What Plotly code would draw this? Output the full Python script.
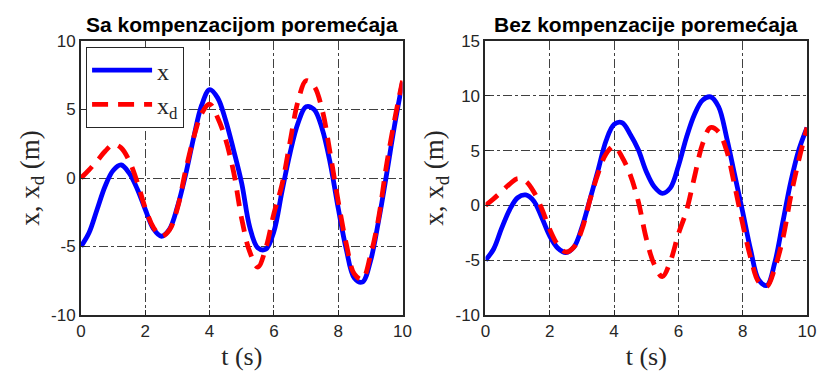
import plotly.graph_objects as go
from plotly.subplots import make_subplots

# time axis (s)
t = [0.0, 0.25, 0.5, 0.75, 1.0, 1.25, 1.5, 1.75, 2.0, 2.25, 2.5, 2.75, 3.0, 3.25,
     3.5, 3.75, 4.0, 4.25, 4.5, 4.75, 5.0, 5.25, 5.5, 5.75, 6.0, 6.25, 6.5, 6.75,
     7.0, 7.25, 7.5, 7.75, 8.0, 8.25, 8.5, 8.75, 9.0, 9.25, 9.5, 9.75, 10.0]

# desired trajectory x_d (same in both panels)
xd = [0.0, 0.6, 1.25, 1.95, 2.45, 2.2, 1.25, -0.3, -2.2, -3.6, -4.25, -3.8, -2.2, 0.5,
      2.9, 4.7, 5.4, 4.4, 2.8, 0.4, -3.0, -5.4, -6.5, -5.1, -2.6, -0.5, 2.6, 5.6,
      7.1, 6.7, 5.0, 1.8, -1.7, -4.8, -7.0, -7.4, -5.7, -3.0, 0.9, 4.2, 7.1]

# x with disturbance compensation
x_comp = [-5.0, -4.0, -2.3, -0.6, 0.55, 0.95, 0.35, -0.8, -2.3, -3.7, -4.25, -3.75, -2.1, 0.2,
          2.9, 5.3, 6.45, 5.85, 4.2, 2.0, -0.4, -3.6, -5.1, -5.2, -3.9, -1.0, 1.8, 4.0,
          5.2, 5.0, 3.6, 1.1, -2.2, -5.2, -7.3, -7.6, -6.1, -3.2, 0.2, 3.8, 7.0]

# x without disturbance compensation
x_nocomp = [-5.0, -4.0, -2.1, -0.4, 0.7, 0.95, 0.4, -1.1, -2.8, -3.9, -4.3, -3.8, -2.0, 0.55,
            3.2, 5.9, 7.4, 7.55, 6.5, 5.1, 3.1, 1.7, 1.1, 1.6, 3.6, 6.2, 8.3, 9.6,
            9.9, 9.0, 6.2, 2.8, -0.6, -4.1, -6.8, -7.3, -5.2, -1.5, 2.2, 5.1, 7.1]

yticks_left = [-10, -5, 0, 5, 10]
yticks_right = [-10, -5, 0, 5, 10, 15]
xticks = [0, 2, 4, 6, 8, 10]

titles = ["<b>Sa kompenzacijom poremećaja</b>", "<b>Bez kompenzacije poremećaja</b>"]

fig = make_subplots(rows=1, cols=2, subplot_titles=titles, horizontal_spacing=0.1143)

for i, xs in enumerate([x_comp, x_nocomp]):
    col = i + 1
    fig.add_trace(go.Scatter(x=t, y=xs, mode='lines', name='x',
                             line=dict(color='#0000ff', width=4.8, shape='spline', smoothing=1.0),
                             showlegend=(i == 0)), row=1, col=col)
    fig.add_trace(go.Scatter(x=t, y=xd, mode='lines', name='x<sub>d</sub>',
                             line=dict(color='#ff0000', width=4.8, dash='16px,10px',
                                       shape='spline', smoothing=1.0),
                             showlegend=(i == 0)), row=1, col=col)

axis_style = dict(showline=True, linecolor='#262626', linewidth=2, mirror=True,
                  ticks='inside', ticklen=5, tickcolor='#262626', automargin=False,
                  showgrid=True, gridcolor='#404040', gridwidth=1, griddash='dashdot',
                  zeroline=False, tickfont=dict(family='Liberation Sans', size=17, color='#262626'))

fig.update_xaxes(range=[0, 10], tickvals=xticks, ticktext=[str(v) for v in xticks], **axis_style,
                 title=dict(text='t (s)', font=dict(family='Liberation Serif', size=26, color='#262626'),
                            standoff=6))
fig.update_yaxes(**axis_style,
                 title=dict(text='x, x<sub>d</sub> (m)', font=dict(family='Liberation Serif', size=27, color='#262626'),
                            standoff=4))
fig.update_yaxes(range=[-10, 10], tickvals=yticks_left, ticktext=[str(v) for v in yticks_left], row=1, col=1)
fig.update_yaxes(range=[-10, 15], tickvals=yticks_right, ticktext=[str(v) for v in yticks_right], row=1, col=2)

for ann in fig.layout.annotations:
    ann.font = dict(family='Liberation Sans', size=21, color='black')
    ann.yshift = 3

fig.update_layout(
    width=819, height=381,
    margin=dict(l=81, r=12, t=41, b=66),
    plot_bgcolor='white', paper_bgcolor='white',
    legend=dict(x=0.007, y=0.978, xanchor='left', yanchor='top', itemwidth=60,
                bgcolor='white', bordercolor='#262626', borderwidth=1,
                font=dict(family='Liberation Serif', size=24, color='#262626')),
)

# drop the default page margin and scrollbars so the figure fills the window exactly
fig.write_html("out.html", config=dict(displayModeBar=False),
               post_script="document.body.style.margin='0';"
                           "document.body.style.overflow='hidden';"
                           "document.documentElement.style.overflow='hidden';")
